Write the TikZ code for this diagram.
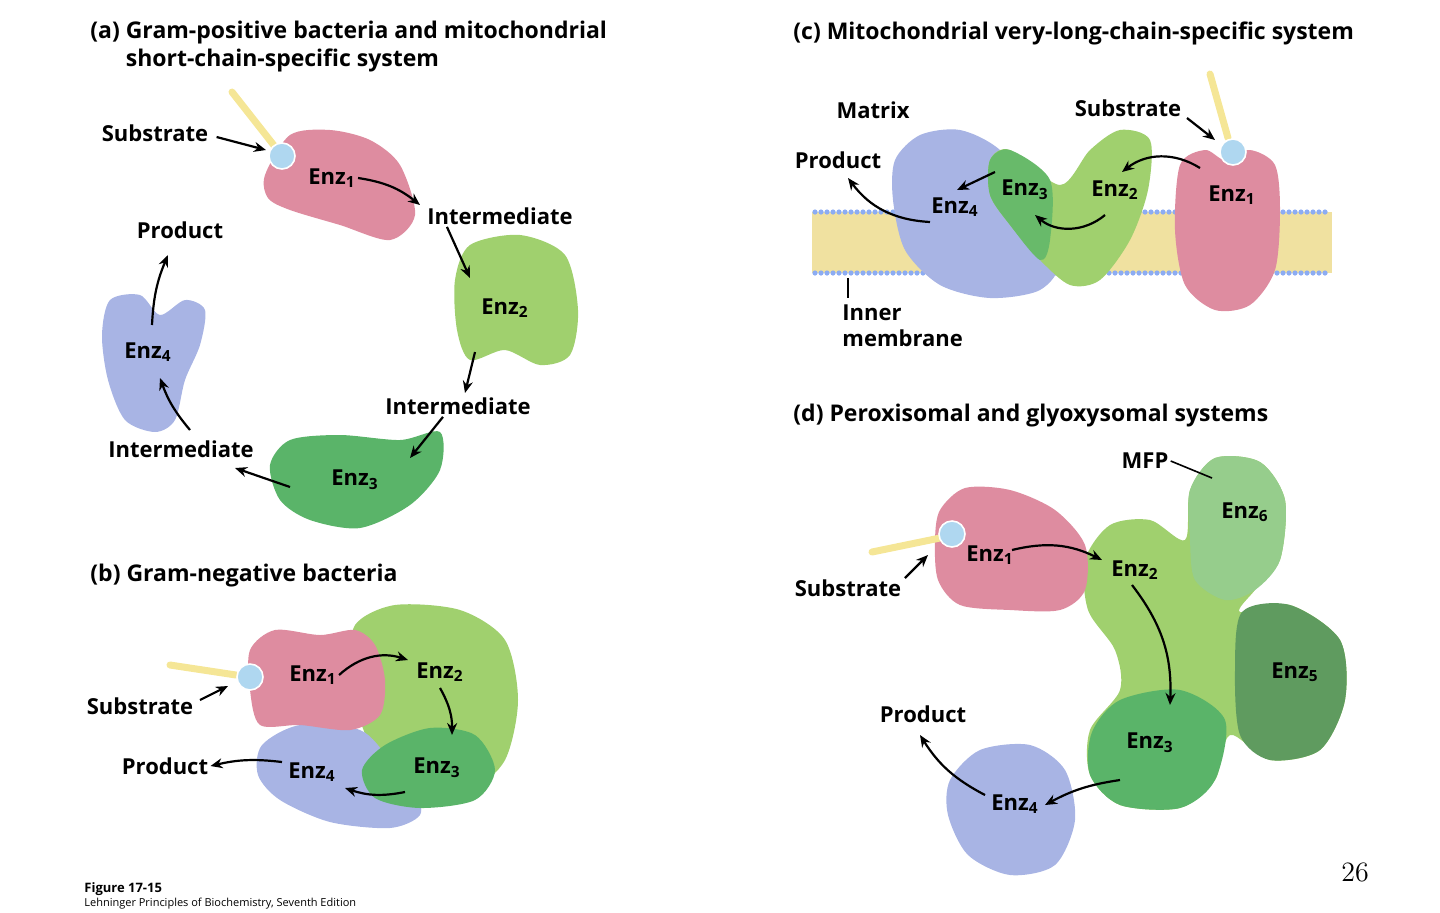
\documentclass[tikz,border=0pt]{standalone}
\usepackage{fontspec}
\setmainfont{Open Sans}
\usetikzlibrary{arrows.meta}
\definecolor{pinkE}{RGB}{222,140,160}
\definecolor{lgreen}{RGB}{160,208,110}
\definecolor{dgreen}{RGB}{90,180,105}
\definecolor{blueE}{RGB}{168,180,228}
\definecolor{g5}{RGB}{95,155,95}
\definecolor{g6}{RGB}{150,205,140}
\definecolor{stick}{RGB}{245,230,150}
\definecolor{ball}{RGB}{175,215,240}
\definecolor{memb}{RGB}{240,225,160}
\tikzset{
 lab/.style={font=\bfseries\fontsize{11}{13}\selectfont, inner sep=1pt},
 ttl/.style={font=\bfseries\fontsize{11.5}{14}\selectfont, anchor=west, align=left, inner sep=0pt},
 arr/.style={-{Stealth[length=6pt,width=5pt]}, line width=1.1pt},
 stk/.style={line width=3.5pt, stick, line cap=round},
 bal/.style={fill=ball, draw=white, line width=0.8pt}
}
\newcommand{\E}[1]{Enz\textsubscript{#1}}
\begin{document}
\begin{tikzpicture}[x=0.5pt,y=-0.5pt]
\useasboundingbox (0,0) rectangle (1440,912);
% ---------- (a)
\node[ttl] (ta) at (90,47) {(a) Gram-positive bacteria and mitochondrial\\\phantom{(a) }short-chain-specific system};
\fill[pinkE] plot[smooth cycle] coordinates {(265,175)(290,135)(330,130)(370,140)(400,165)(415,215)(390,240)(340,225)(290,210)(268,198)};
\draw[stk] (232,92) -- (276,148);
\draw[bal] (282,156) circle (13);
\coordinate (sa) at (266,150);
\fill[lgreen] plot[smooth cycle] coordinates {(455,280)(470,245)(520,235)(565,255)(578,310)(570,355)(540,365)(505,350)(470,360)(457,330)};
\fill[dgreen] plot[smooth cycle] coordinates {(270,465)(290,440)(340,435)(400,440)(440,432)(440,470)(410,505)(360,528)(310,520)(280,500)};
\fill[blueE] plot[smooth cycle] coordinates {(110,300)(140,295)(160,315)(185,300)(205,310)(200,345)(185,380)(175,420)(155,432)(125,420)(108,380)(102,335)};
\node[lab] (a1) at (332,178) {\E1};
\node[lab] (a2) at (505,308) {\E2};
\node[lab] (a3) at (355,480) {\E3};
\node[lab] (a4) at (148,352) {\E4};
\node[lab] (ai1) at (500,216) {Intermediate};
\node[lab] (ai2) at (458,406) {Intermediate};
\node[lab] (ai3) at (181,449) {Intermediate};
\node[lab] (ap) at (180,230) {Product};
\node[lab] (as) at (155,133) {Substrate};
\draw[arr] (as.east)++(6,4) -- (sa);
\draw[arr] (a1.east) to[bend left=15] (420,205);
\draw[arr] (ai1.south west)++(22,0) -- (470,278);
\draw[arr] (475,352) -- (465,393);
\draw[arr] (ai2.south)++(-15,0) -- (410,458);
\draw[arr] (290,487) -- (235,468);
\draw[arr] (190,430) to[bend left=10] (160,378);
\draw[arr] (152,325) to[bend left=10] (168,255);
% ---------- (b)
\node[ttl] (tb) at (90,576) {(b) Gram-negative bacteria};
\fill[lgreen] plot[smooth cycle] coordinates {(355,625)(395,605)(460,610)(505,640)(518,700)(505,760)(470,790)(420,790)(380,760)(360,720)(352,670)};
\fill[blueE] plot[smooth cycle] coordinates {(262,745)(300,725)(360,730)(390,760)(415,790)(420,815)(390,828)(330,822)(280,800)(258,775)};
\fill[dgreen] plot[smooth cycle] coordinates {(362,770)(385,745)(430,728)(475,735)(495,770)(475,800)(420,808)(375,798)};
\fill[pinkE] plot[smooth cycle] coordinates {(250,650)(275,630)(320,635)(355,630)(375,645)(385,680)(380,715)(350,730)(300,725)(260,725)(250,690)};
\draw[stk] (170,665) -- (236,675);
\draw[bal] (250,677) circle (13);
\node[lab] (b1) at (313,675) {\E1};
\node[lab] (b2) at (440,672) {\E2};
\node[lab] (b3) at (437,768) {\E3};
\node[lab] (b4) at (312,772) {\E4};
\node[lab] (bs) at (140,706) {Substrate};
\node[lab] (bp) at (165,766) {Product};
\draw[arr] (200,700) -- (228,686);
\draw[arr] (282,762) to[bend right=10] (bp.east);
\draw[arr] (b1.east) to[bend left=30] (408,660);
\draw[arr] (440,688) to[bend left=15] (452,735);
\draw[arr] (405,792) to[bend left=15] (345,788);
% ---------- (c)
\node[ttl] (tc) at (793,33) {(c) Mitochondrial very-long-chain-specific system};
\fill[memb] (812,212) rectangle (1332,273);
\foreach \x in {815,821,...,1330} {\fill[ball!80!blue] (\x,212) circle (2.6); \fill[ball!80!blue] (\x,273) circle (2.6);}
\fill[blueE] plot[smooth cycle] coordinates {(895,160)(920,135)(960,130)(1000,150)(1040,200)(1060,260)(1040,290)(990,298)(940,285)(905,250)(893,200)};
\fill[lgreen] plot[smooth cycle] coordinates {(990,160)(1010,150)(1060,185)(1090,150)(1120,130)(1150,140)(1148,190)(1130,240)(1100,280)(1070,285)(1040,260)(1010,225)(990,195)};
\fill[dgreen!80!lgreen] plot[smooth cycle] coordinates {(990,160)(1010,150)(1050,180)(1050,240)(1040,260)(1010,225)(990,195)};
\fill[pinkE] plot[smooth cycle] coordinates {(1180,165)(1205,150)(1225,160)(1250,150)(1275,165)(1280,210)(1275,270)(1250,305)(1215,310)(1185,285)(1175,230)};
\draw[stk] (1210,74) -- (1228,138);
\draw[bal] (1233,152) circle (13);
\node[lab] (cm) at (873,110) {Matrix};
\node[lab] (cs) at (1128,108) {Substrate};
\node[lab] (cp) at (838,160) {Product};
\node[lab] (c4) at (955,207) {\E4};
\node[lab] (c3) at (1025,190) {\E3};
\node[lab] (c2) at (1115,190) {\E2};
\node[lab] (c1) at (1232,195) {\E1};
\node[lab, align=left, anchor=north west] (cim) at (840,302) {Inner\\membrane};
\draw[line width=0.8pt] (848,278) -- (848,298);
\draw[arr] (1187,118) -- (1215,140);
\draw[arr] (1200,168) to[bend right=35] (1122,172);
\draw[arr] (1105,215) to[bend left=40] (1035,215);
\draw[arr] (995,172) -- (957,190);
\draw[arr] (930,222) to[bend left=25] (848,178);
% ---------- (d)
\node[ttl] (td) at (793,416) {(d) Peroxisomal and glyoxysomal systems};
\fill[lgreen] plot[smooth cycle] coordinates {(1085,560)(1110,525)(1150,520)(1185,540)(1190,490)(1215,458)(1260,462)(1285,500)(1280,560)(1255,590)(1240,612)(1290,605)(1340,640)(1345,700)(1320,750)(1270,760)(1230,735)(1215,780)(1180,808)(1120,805)(1090,775)(1090,730)(1120,690)(1115,650)(1088,610)};
\fill[g6] plot[smooth cycle] coordinates {(1190,540)(1190,490)(1215,458)(1260,462)(1285,500)(1280,560)(1255,590)(1225,600)(1195,580)};
\fill[g5] plot[smooth cycle] coordinates {(1242,612)(1290,605)(1340,640)(1345,700)(1320,750)(1270,760)(1240,735)(1235,670)};
\fill[dgreen] plot[smooth cycle] coordinates {(1120,700)(1180,690)(1225,720)(1215,780)(1180,808)(1120,805)(1090,775)(1092,732)};
\fill[pinkE] plot[smooth cycle] coordinates {(940,510)(965,488)(1010,490)(1055,510)(1085,545)(1085,590)(1060,610)(1010,610)(960,605)(938,580)(935,540)};
\draw[stk] (872,552) -- (940,538);
\draw[bal] (952,534) circle (13);
\fill[blueE] plot[smooth cycle] coordinates {(950,780)(980,750)(1030,745)(1065,770)(1075,820)(1055,865)(1010,875)(968,855)(948,815)};
\node[lab] (dm) at (1145,461) {MFP};
\node[lab] (d6) at (1245,512) {\E6};
\node[lab] (d2) at (1135,570) {\E2};
\node[lab] (d1) at (990,555) {\E1};
\node[lab] (d5) at (1295,672) {\E5};
\node[lab] (d3) at (1150,743) {\E3};
\node[lab] (d4) at (1015,804) {\E4};
\node[lab] (dp) at (923,714) {Product};
\node[lab] (ds) at (848,588) {Substrate};
\draw[line width=0.8pt] (dm.east) -- (1212,478);
\draw[arr] (905,578) -- (928,555);
\draw[arr] (1012,550) to[bend left=20] (1102,560);
\draw[arr] (1132,585) to[bend left=20] (1170,705);
\draw[arr] (1120,780) to[bend right=10] (1045,805);
\draw[arr] (985,795) to[bend left=15] (920,735);
% footer
\node[font=\fontsize{14}{16}\selectfont, inner sep=0pt] (pg) at (1355,872) {\fontspec{Latin Modern Roman}26};
\node[font=\bfseries\fontsize{6.5}{8}\selectfont, anchor=west, inner sep=0pt] (fig) at (84,889) {Figure 17-15};
\node[font=\fontsize{5.5}{7}\selectfont, anchor=west, inner sep=0pt] (cap) at (84,904) {Lehninger Principles of Biochemistry, Seventh Edition};
\end{tikzpicture}
\end{document}
